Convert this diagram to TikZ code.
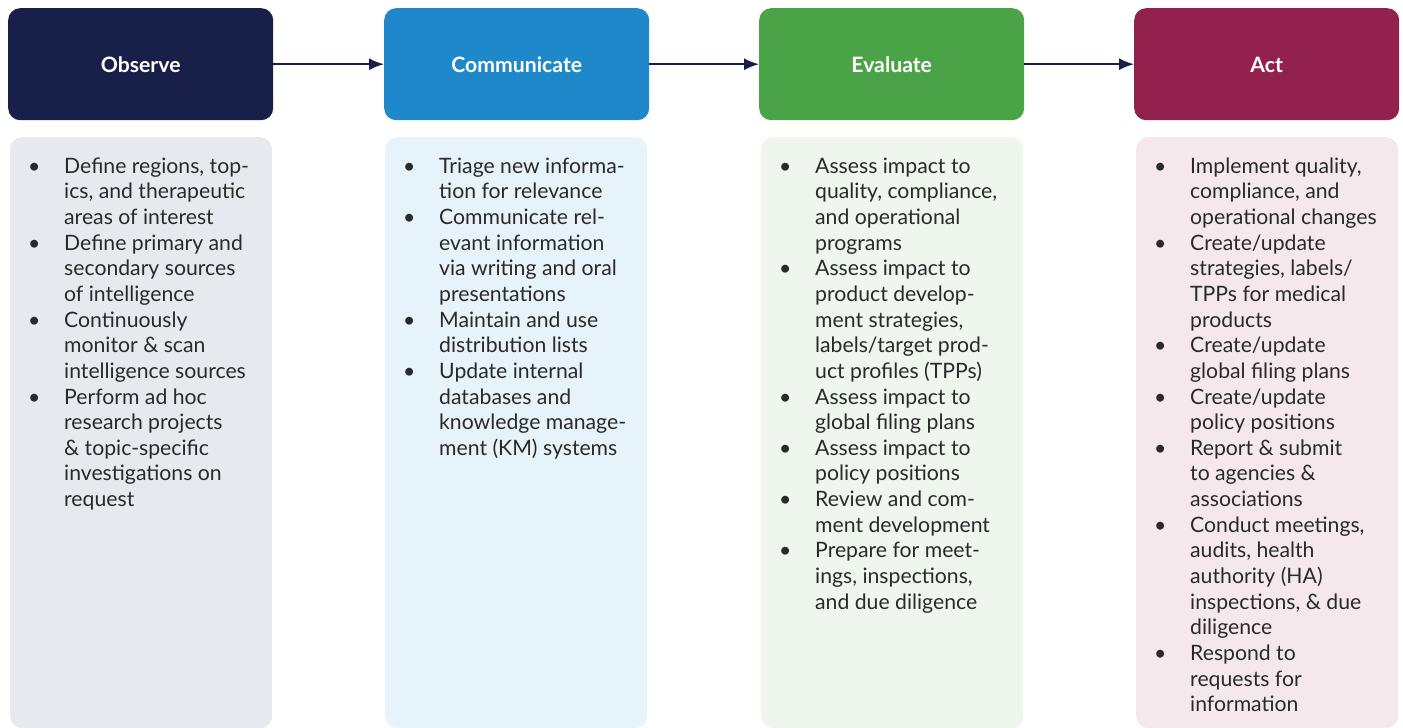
\documentclass[tikz,border=0pt]{standalone}
\usepackage{fontspec}
\setmainfont{Lato}
\usetikzlibrary{arrows.meta}

% stage colours
\definecolor{obsHead}{HTML}{18204A}
\definecolor{comHead}{HTML}{1F88CA}
\definecolor{evaHead}{HTML}{4AA447}
\definecolor{actHead}{HTML}{93214D}
\definecolor{obsBody}{HTML}{E8E9EE}
\definecolor{comBody}{HTML}{E6F3FA}
\definecolor{evaBody}{HTML}{EEF6EE}
\definecolor{actBody}{HTML}{F5E8ED}
\definecolor{bodyText}{HTML}{2A2A2A}
\definecolor{arrowC}{HTML}{18204A}

% one bulleted line, and a continuation line
\newcommand{\bitem}[1]{\makebox[0pt]{\textbullet} & #1\\}
\newcommand{\cont}[1]{& #1\\}
\newenvironment{blist}{\begin{tabular}{@{}l@{\hspace{30pt}}l@{}}}{\end{tabular}}

\begin{document}
\begin{tikzpicture}[x=1pt,y=-1pt,
  stagehead/.style={rounded corners=12pt, anchor=north west, inner sep=0pt,
    minimum width=265pt, minimum height=112pt, text=white,
    font=\fontsize{21.2}{24}\selectfont\bfseries},
  headlabel/.style={text=white, inner sep=0pt, anchor=base,
    font=\fontsize{21.2}{24}\selectfont\bfseries},
  stagebody/.style={rounded corners=12pt, anchor=north west, inner sep=0pt,
    minimum width=262pt, minimum height=591pt},
  itemlist/.style={anchor=north west, inner sep=0pt, text=bodyText,
    font=\fontsize{21.2}{25.65}\selectfont},
  flow/.style={draw=arrowC, line width=1.8pt, -{Latex[length=15pt,width=12pt]}}]

\useasboundingbox (0,0) rectangle (1403,728);
\fill[white] (0,0) rectangle (1403,728);

% header boxes
\node[stagehead, fill=obsHead] (obs) at (8,8) {};
\node[stagehead, fill=comHead] (com) at (384,8) {};
\node[stagehead, fill=evaHead] (eva) at (759,8) {};
\node[stagehead, fill=actHead] (act) at (1134,8) {};

% header titles, set on a common baseline
\node[headlabel] (obstitle) at ([yshift=-8.5pt]obs.center) {Observe};
\node[headlabel] (comtitle) at ([yshift=-8.5pt]com.center) {Communicate};
\node[headlabel] (evatitle) at ([yshift=-8.5pt]eva.center) {Evaluate};
\node[headlabel] (acttitle) at ([yshift=-8.5pt]act.center) {Act};

% flow arrows
\draw[flow] (obs.east) -- (com.west);
\draw[flow] (com.east) -- (eva.west);
\draw[flow] (eva.east) -- (act.west);

% body panels
\node[stagebody, fill=obsBody] (obsbody) at (10,137) {};
\node[stagebody, fill=comBody] (combody) at (385,137) {};
\node[stagebody, fill=evaBody] (evabody) at (761,137) {};
\node[stagebody, fill=actBody] (actbody) at (1136,137) {};

% bullet lists
\node[itemlist] (obslist) at (34,155) {\begin{blist}
\bitem{Define regions, top-}
\cont{ics, and therapeutic}
\cont{areas of interest}
\bitem{Define primary and}
\cont{secondary sources}
\cont{of intelligence}
\bitem{Continuously}
\cont{monitor \& scan}
\cont{intelligence sources}
\bitem{Perform ad hoc}
\cont{research projects}
\cont{\& topic-specific}
\cont{investigations on}
\cont{request}
\end{blist}};

\node[itemlist] (comlist) at (409,155) {\begin{blist}
\bitem{Triage new informa-}
\cont{tion for relevance}
\bitem{Communicate rel-}
\cont{evant information}
\cont{via writing and oral}
\cont{presentations}
\bitem{Maintain and use}
\cont{distribution lists}
\bitem{Update internal}
\cont{databases and}
\cont{knowledge manage-}
\cont{ment (KM) systems}
\end{blist}};

\node[itemlist] (evalist) at (785,155) {\begin{blist}
\bitem{Assess impact to}
\cont{quality, compliance,}
\cont{and operational}
\cont{programs}
\bitem{Assess impact to}
\cont{product develop-}
\cont{ment strategies,}
\cont{labels/target prod-}
\cont{uct profiles (TPPs)}
\bitem{Assess impact to}
\cont{global filing plans}
\bitem{Assess impact to}
\cont{policy positions}
\bitem{Review and com-}
\cont{ment development}
\bitem{Prepare for meet-}
\cont{ings, inspections,}
\cont{and due diligence}
\end{blist}};

\node[itemlist] (actlist) at (1160,155) {\begin{blist}
\bitem{Implement quality,}
\cont{compliance, and}
\cont{operational changes}
\bitem{Create/update}
\cont{strategies, labels/}
\cont{TPPs for medical}
\cont{products}
\bitem{Create/update}
\cont{global filing plans}
\bitem{Create/update}
\cont{policy positions}
\bitem{Report \& submit}
\cont{to agencies \&}
\cont{associations}
\bitem{Conduct meetings,}
\cont{audits, health}
\cont{authority (HA)}
\cont{inspections, \& due}
\cont{diligence}
\bitem{Respond to}
\cont{requests for}
\cont{information}
\end{blist}};

\end{tikzpicture}
\end{document}
